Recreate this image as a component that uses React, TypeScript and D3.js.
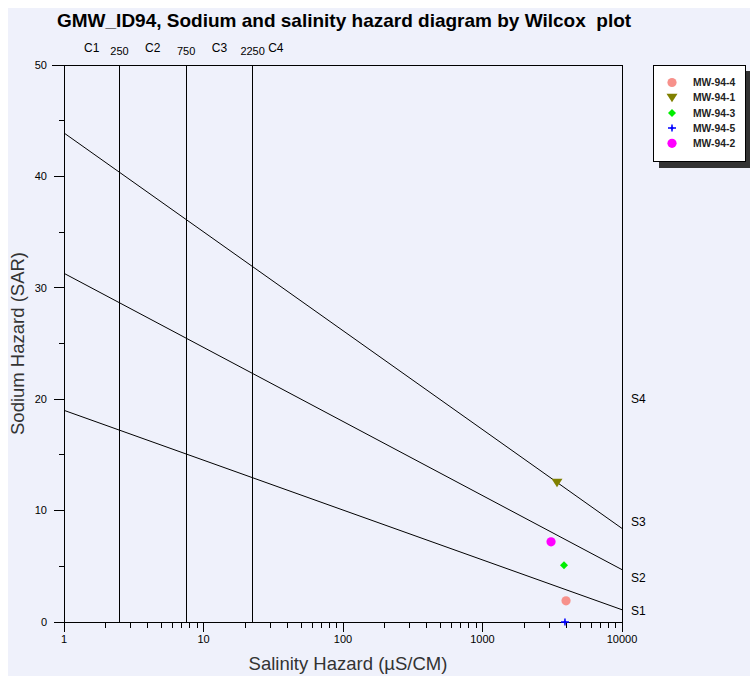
import React from "react";
import * as d3 from "d3";

const title = "GMW_ID94, Sodium and salinity hazard diagram by Wilcox  plot";
const xLabel = "Salinity Hazard (µS/CM)";
const yLabel = "Sodium Hazard (SAR)";

const xTicks = [1, 10, 100, 1000, 10000];
const yTicks = [0, 10, 20, 30, 40, 50];
const yMinorTicks = [5, 15, 25, 35, 45];

// class boundaries (drawn position on axis) and their labels
const boundaryPos = [2.5, 7.5, 22.5];
const boundaryLabels = ["250", "750", "2250"];
const classLabels = ["C1", "C2", "C3", "C4"];
const classLabelPos = [1.58, 4.33, 13, 33];

// hazard lines: SAR at x=1 and at x=10000
const hazardStart = [19.0, 31.3, 43.9];
const hazardEnd = [1.1, 4.7, 8.4];
const sLabels = ["S1", "S2", "S3", "S4"];
const sLabelPos = [1, 4, 9, 20];

const sampleNames = ["MW-94-4", "MW-94-1", "MW-94-3", "MW-94-5", "MW-94-2"];
const sampleEC = [3970, 3420, 3840, 3900, 3100];
const sampleSAR = [1.9, 12.5, 5.1, 0, 7.2];
const sampleColors = ["#F7918B", "#808000", "#00EE00", "#0000FF", "#FF00FF"];
const sampleShapes = ["circle", "triangleDown", "diamond", "cross", "circle"];

function Marker({ shape, color, x, y }: { shape: string; color: string; x: number; y: number }) {
  if (shape === "circle") return <circle cx={x} cy={y} r={4.6} fill={color} />;
  if (shape === "triangleDown")
    return <path d={`M${x - 5.5},${y - 4}L${x + 5.5},${y - 4}L${x},${y + 4.5}Z`} fill={color} />;
  if (shape === "diamond")
    return <path d={`M${x},${y - 4}L${x + 4},${y}L${x},${y + 4}L${x - 4},${y}Z`} fill={color} />;
  return (
    <g>
      <path d={`M${x - 4},${y}L${x + 4},${y}M${x},${y - 3.5}L${x},${y + 3.5}`} stroke={color} strokeWidth={1.5} />
      <path d={`M${x - 1.8},${y}L${x},${y - 1.8}L${x + 1.8},${y}L${x},${y + 1.8}Z`} fill={color} />
    </g>
  );
}

export default function App() {
  const W = 750, H = 676;
  const left = 64, right = 622, top = 65, bottom = 622;
  const x = d3.scaleLog().domain([1, 10000]).range([left, right]);
  const y = d3.scaleLinear().domain([0, 50]).range([bottom, top]);
  const font = "Liberation Sans, Arial, sans-serif";

  const xMinor: number[] = [];
  for (let d = 1; d < 10000; d *= 10) for (let k = 2; k <= 9; k++) xMinor.push(d * k);

  const line = d3.line<[number, number]>().x((d) => x(d[0])).y((d) => y(d[1]));

  return (
    <svg width={W} height={H} style={{ position: "absolute", left: 0, top: 0, display: "block" }} fontFamily={font}>
      <rect x={0} y={0} width={W} height={H} fill="#ffffff" />
      <rect x={8} y={8} width={W - 8} height={H - 8} fill="#EFF1FB" />
      <text x={57} y={27} fontSize={19} fontWeight="bold" fill="#000" style={{ whiteSpace: "pre" }}>{title}</text>

      {/* class labels */}
      {classLabels.map((c, i) => (
        <text key={c} x={x(classLabelPos[i])} y={52} fontSize={12} textAnchor="middle" fill="#000">{c}</text>
      ))}
      {boundaryLabels.map((b, i) => (
        <text key={b} x={x(boundaryPos[i])} y={55} fontSize={11} textAnchor="middle" fill="#000">{b}</text>
      ))}

      {/* frame */}
      <g stroke="#000" strokeWidth={1} shapeRendering="crispEdges" fill="none">
        <line x1={left - 12} x2={right} y1={top} y2={top} />
        <line x1={right} x2={right} y1={top} y2={bottom} />
        <line x1={left} x2={left} y1={top} y2={bottom + 10} />
        <line x1={left - 10} x2={right} y1={bottom} y2={bottom} />
        {yTicks.map((t) => (
          <line key={"yt" + t} x1={left - 10} x2={left} y1={y(t)} y2={y(t)} />
        ))}
        {yMinorTicks.map((t) => (
          <line key={"ym" + t} x1={left - 5} x2={left} y1={y(t)} y2={y(t)} />
        ))}
        {xTicks.map((t) => (
          <line key={"xt" + t} x1={x(t)} x2={x(t)} y1={bottom} y2={bottom + 10} />
        ))}
        {xMinor.map((t) => (
          <line key={"xm" + t} x1={x(t)} x2={x(t)} y1={bottom} y2={bottom + 6} />
        ))}
        {boundaryPos.map((b) => (
          <line key={"b" + b} x1={x(b)} x2={x(b)} y1={top} y2={bottom} />
        ))}
      </g>

      {/* hazard lines */}
      {hazardStart.map((s, i) => (
        <path key={"h" + i} d={line([[1, s], [10000, hazardEnd[i]]]) || ""} stroke="#000" strokeWidth={1} fill="none" />
      ))}

      {/* tick labels */}
      {yTicks.map((t) => (
        <text key={"yl" + t} x={47} y={y(t)} dy="0.35em" fontSize={11} textAnchor="end" fill="#000">{t}</text>
      ))}
      {xTicks.map((t) => (
        <text key={"xl" + t} x={x(t)} y={643} fontSize={11} textAnchor="middle" fill="#000">{t}</text>
      ))}
      {sLabels.map((s, i) => (
        <text key={s} x={631} y={y(sLabelPos[i])} dy="0.35em" fontSize={12} fill="#000">{s}</text>
      ))}

      {/* axis titles */}
      <text x={348} y={670} fontSize={18.5} textAnchor="middle" fill="#333">{xLabel}</text>
      <text transform={`translate(24,${(top + bottom) / 2}) rotate(-90)`} fontSize={18.5} textAnchor="middle" fill="#333">{yLabel}</text>

      {/* data */}
      {sampleNames.map((n, i) => (
        <Marker key={n} shape={sampleShapes[i]} color={sampleColors[i]} x={x(sampleEC[i])} y={y(sampleSAR[i])} />
      ))}

      {/* legend */}
      <rect x={659} y={71} width={91} height={97} fill="#333" />
      <rect x={653.5} y={65.5} width={92} height={96} fill="#fff" stroke="#000" strokeWidth={1} />
      {sampleNames.map((n, i) => (
        <g key={"lg" + n}>
          <Marker shape={sampleShapes[i]} color={sampleColors[i]} x={672} y={82.5 + i * 15.2} />
          <text x={693} y={82.5 + i * 15.2} dy="0.35em" fontSize={10.3} fontWeight="bold" fill="#222">{n}</text>
        </g>
      ))}
    </svg>
  );
}
